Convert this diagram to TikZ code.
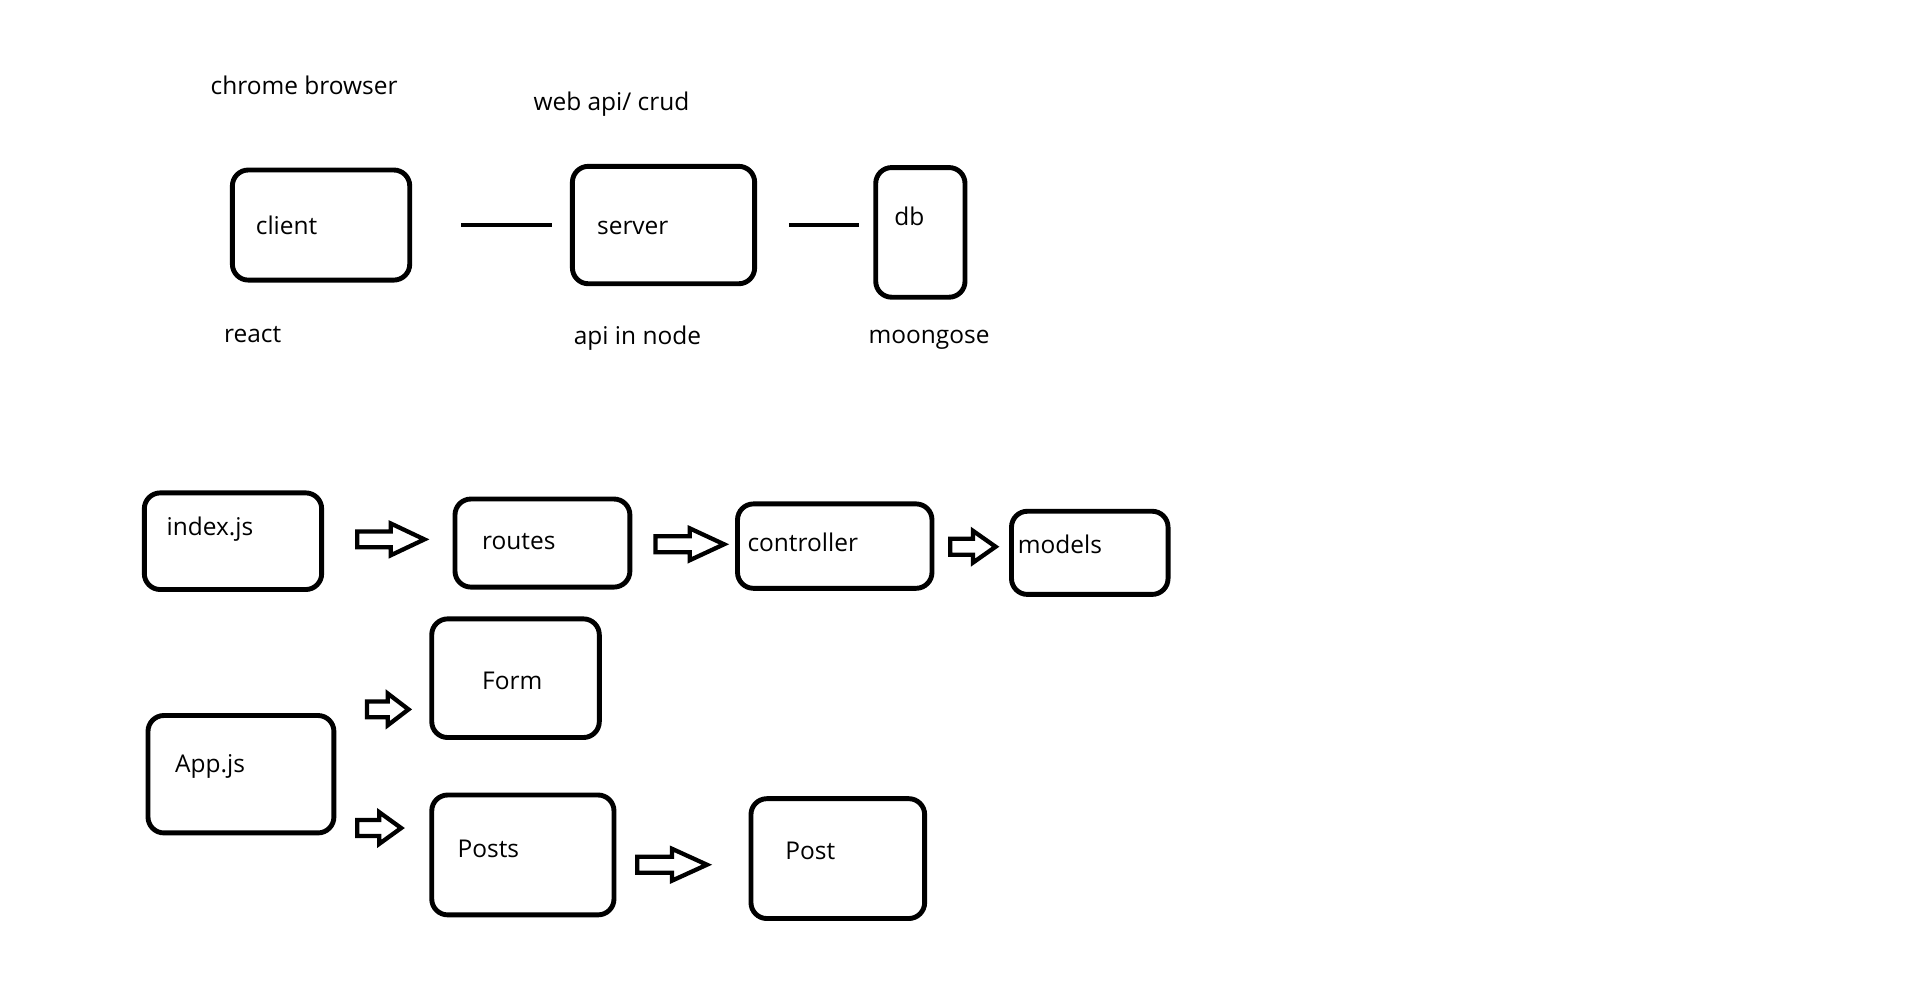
\documentclass[tikz,border=0pt]{standalone}
\usepackage{fontspec}
\setmainfont{Open Sans}
\usetikzlibrary{fit}

\tikzset{
  box/.style={draw, line width=4pt, rounded corners=13pt, inner sep=0pt},
  txt/.style={anchor=base west, inner sep=0pt, font=\fontsize{20}{24}\selectfont},
  link/.style={line width=4pt},
  arrowline/.style={draw, line width=3.5pt, fill=white},
  pics/blockarrow/.style={code={
    \draw[arrowline] (0,-6.5) -- (#1/2,-6.5) -- (#1/2,-13) -- (#1,0)
      -- (#1/2,13) -- (#1/2,6.5) -- (0,6.5) -- cycle;}},
}

\begin{document}
\begin{tikzpicture}[x=1pt, y=-1pt]
  \useasboundingbox[fill=white] (2,0) rectangle (1562,806);

  % client / server / db
  \node[box, fit={(192,139) (337,229)}] (client) {};
  \node[box, fit={(470,136) (619,232)}] (server) {};
  \node[box, fit={(718,137) (791,243)}] (db) {};

  \node[txt] (chrome) at (174,77) {chrome browser};
  \node[txt] (webapi) at (438,90.5) {web api/ crud};
  \node[txt] (clientlbl) at (211,191.5) {client};
  \node[txt] (serverlbl) at (490,191.5) {server};
  \node[txt] (dblbl) at (733,184) {db};
  \node[txt] (react) at (185,280) {react};
  \node[txt] (apinode) at (471,282) {api in node};
  \node[txt] (moongose) at (712,281) {moongose};

  \draw[link, shorten <=40pt, shorten >=15pt] (client.east) -- (server.west);
  \draw[link, shorten <=26pt, shorten >=12pt] (server.east) -- (server.east -| db.west);

  % backend files
  \node[box, fit={(120,403) (265,482)}] (index) {};
  \node[box, fit={(374,408) (517,480)}] (routes) {};
  \node[box, fit={(605,412) (764,481)}] (controller) {};
  \node[box, fit={(829,418) (957,486)}] (models) {};

  \node[txt] (indexlbl) at (138,437.5) {index.js};
  \node[txt] (routeslbl) at (396,449) {routes};
  \node[txt] (controllerlbl) at (613,451) {controller};
  \node[txt] (modelslbl) at (834,452.5) {models};

  \path ([shift={(27,-1.5)}]index.east) pic {blockarrow=55};
  \path ([shift={(19,1)}]routes.east) pic {blockarrow=56};
  \path ([shift={(13,0.5)}]controller.east) pic {blockarrow=37};

  % frontend components
  \node[box, fit={(355,506) (492,603)}] (form) {};
  \node[box, fit={(123,585) (275,681)}] (app) {};
  \node[box, fit={(355,650) (504,748)}] (posts) {};
  \node[box, fit={(616,653) (758,751)}] (post) {};

  \node[txt] (formlbl) at (396,564) {Form};
  \node[txt] (applbl) at (145,632) {App.js};
  \node[txt] (postslbl) at (376,701) {Posts};
  \node[txt] (postlbl) at (644,703) {Post};

  \path ([shift={(25,-3)}]app.north east) pic {blockarrow=34};
  \path ([shift={(17,-6)}]app.south east) pic {blockarrow=36};
  \path ([shift={(17,8)}]posts.east) pic {blockarrow=57};
\end{tikzpicture}
\end{document}
